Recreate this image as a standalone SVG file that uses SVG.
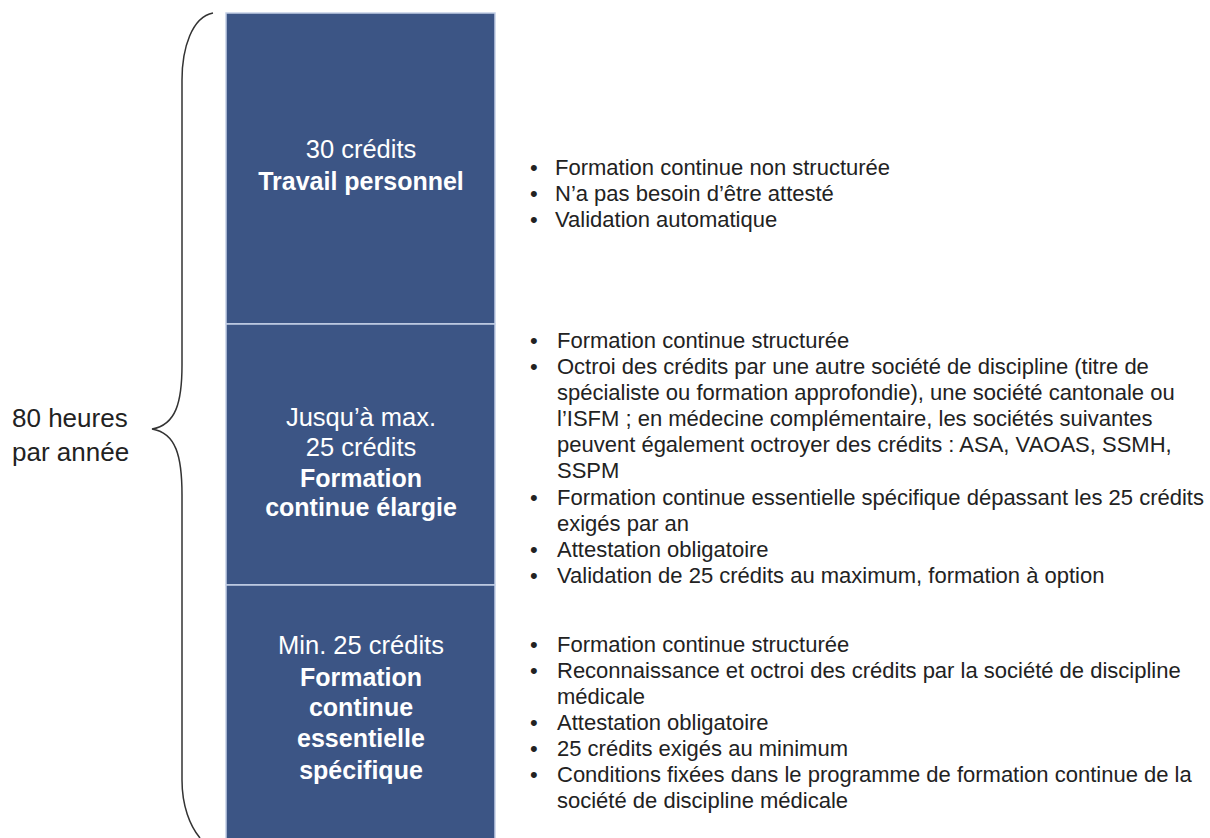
<svg xmlns="http://www.w3.org/2000/svg" width="1210" height="838" viewBox="0 0 1210 838">
<style>
.box{fill:#3c5585;stroke:#c4cfe6;stroke-width:1.5}
.bt{font-family:"Liberation Sans",Arial,sans-serif;font-size:25.5px;fill:#ffffff;text-anchor:middle}
.bb{font-weight:bold;font-size:25px}
.rt{font-family:"Liberation Sans",Arial,sans-serif;font-size:22px;fill:#222222}
.lt{font-family:"Liberation Sans",Arial,sans-serif;font-size:26px;fill:#222222}
.brace{fill:none;stroke:#333333;stroke-width:1.5}
</style>
<rect width="1210" height="838" fill="#ffffff"/>
<g id="brace">
<path class="brace" d="M213,13 C192,17 182,48 182,80 L182,365 C182,402 176,425 152,429 C176,433 182,456 182,495 L182,780 C182,806 190,826 200,838"/>
<text class="lt" x="12" y="427">80 heures</text>
<text class="lt" x="12" y="461">par année</text>
</g>
<g id="node1">
<rect class="box" x="226" y="13" width="269" height="311"/>
<text class="bt" x="361" y="158">30 crédits</text>
<text class="bt bb" x="361" y="190">Travail personnel</text>
</g>
<g id="node2">
<rect class="box" x="226" y="324" width="269" height="261"/>
<text class="bt" x="361" y="426">Jusqu’à max.</text>
<text class="bt" x="361" y="456">25 crédits</text>
<text class="bt bb" x="361" y="487">Formation</text>
<text class="bt bb" x="361" y="516">continue élargie</text>
</g>
<g id="node3">
<rect class="box" x="226" y="585" width="269" height="270"/>
<text class="bt" x="361" y="654">Min. 25 crédits</text>
<text class="bt bb" x="361" y="686">Formation</text>
<text class="bt bb" x="361" y="716">continue</text>
<text class="bt bb" x="361" y="747">essentielle</text>
<text class="bt bb" x="361" y="779">spécifique</text>
</g>
<g id="text1">
<text class="rt" x="530" y="175">•</text><text class="rt" x="555" y="175">Formation continue non structurée</text>
<text class="rt" x="530" y="201">•</text><text class="rt" x="555" y="201">N’a pas besoin d’être attesté</text>
<text class="rt" x="530" y="227">•</text><text class="rt" x="555" y="227">Validation automatique</text>
</g>
<g id="text2">
<text class="rt" x="530" y="348">•</text><text class="rt" x="557" y="348">Formation continue structurée</text>
<text class="rt" x="530" y="374">•</text><text class="rt" x="557" y="374">Octroi des crédits par une autre société de discipline (titre de</text>
<text class="rt" x="557" y="400">spécialiste ou formation approfondie), une société cantonale ou</text>
<text class="rt" x="557" y="426">l’ISFM ; en médecine complémentaire, les sociétés suivantes</text>
<text class="rt" x="557" y="452">peuvent également octroyer des crédits : ASA, VAOAS, SSMH,</text>
<text class="rt" x="557" y="478">SSPM</text>
<text class="rt" x="530" y="505">•</text><text class="rt" x="557" y="505">Formation continue essentielle spécifique dépassant les 25 crédits</text>
<text class="rt" x="557" y="531">exigés par an</text>
<text class="rt" x="530" y="557">•</text><text class="rt" x="557" y="557">Attestation obligatoire</text>
<text class="rt" x="530" y="583">•</text><text class="rt" x="557" y="583">Validation de 25 crédits au maximum, formation à option</text>
</g>
<g id="text3">
<text class="rt" x="530" y="652">•</text><text class="rt" x="557" y="652">Formation continue structurée</text>
<text class="rt" x="530" y="678">•</text><text class="rt" x="557" y="678">Reconnaissance et octroi des crédits par la société de discipline</text>
<text class="rt" x="557" y="704">médicale</text>
<text class="rt" x="530" y="730">•</text><text class="rt" x="557" y="730">Attestation obligatoire</text>
<text class="rt" x="530" y="756">•</text><text class="rt" x="557" y="756">25 crédits exigés au minimum</text>
<text class="rt" x="530" y="782">•</text><text class="rt" x="557" y="782">Conditions fixées dans le programme de formation continue de la</text>
<text class="rt" x="557" y="808">société de discipline médicale</text>
</g>
<g id="connectors"></g>
</svg>
